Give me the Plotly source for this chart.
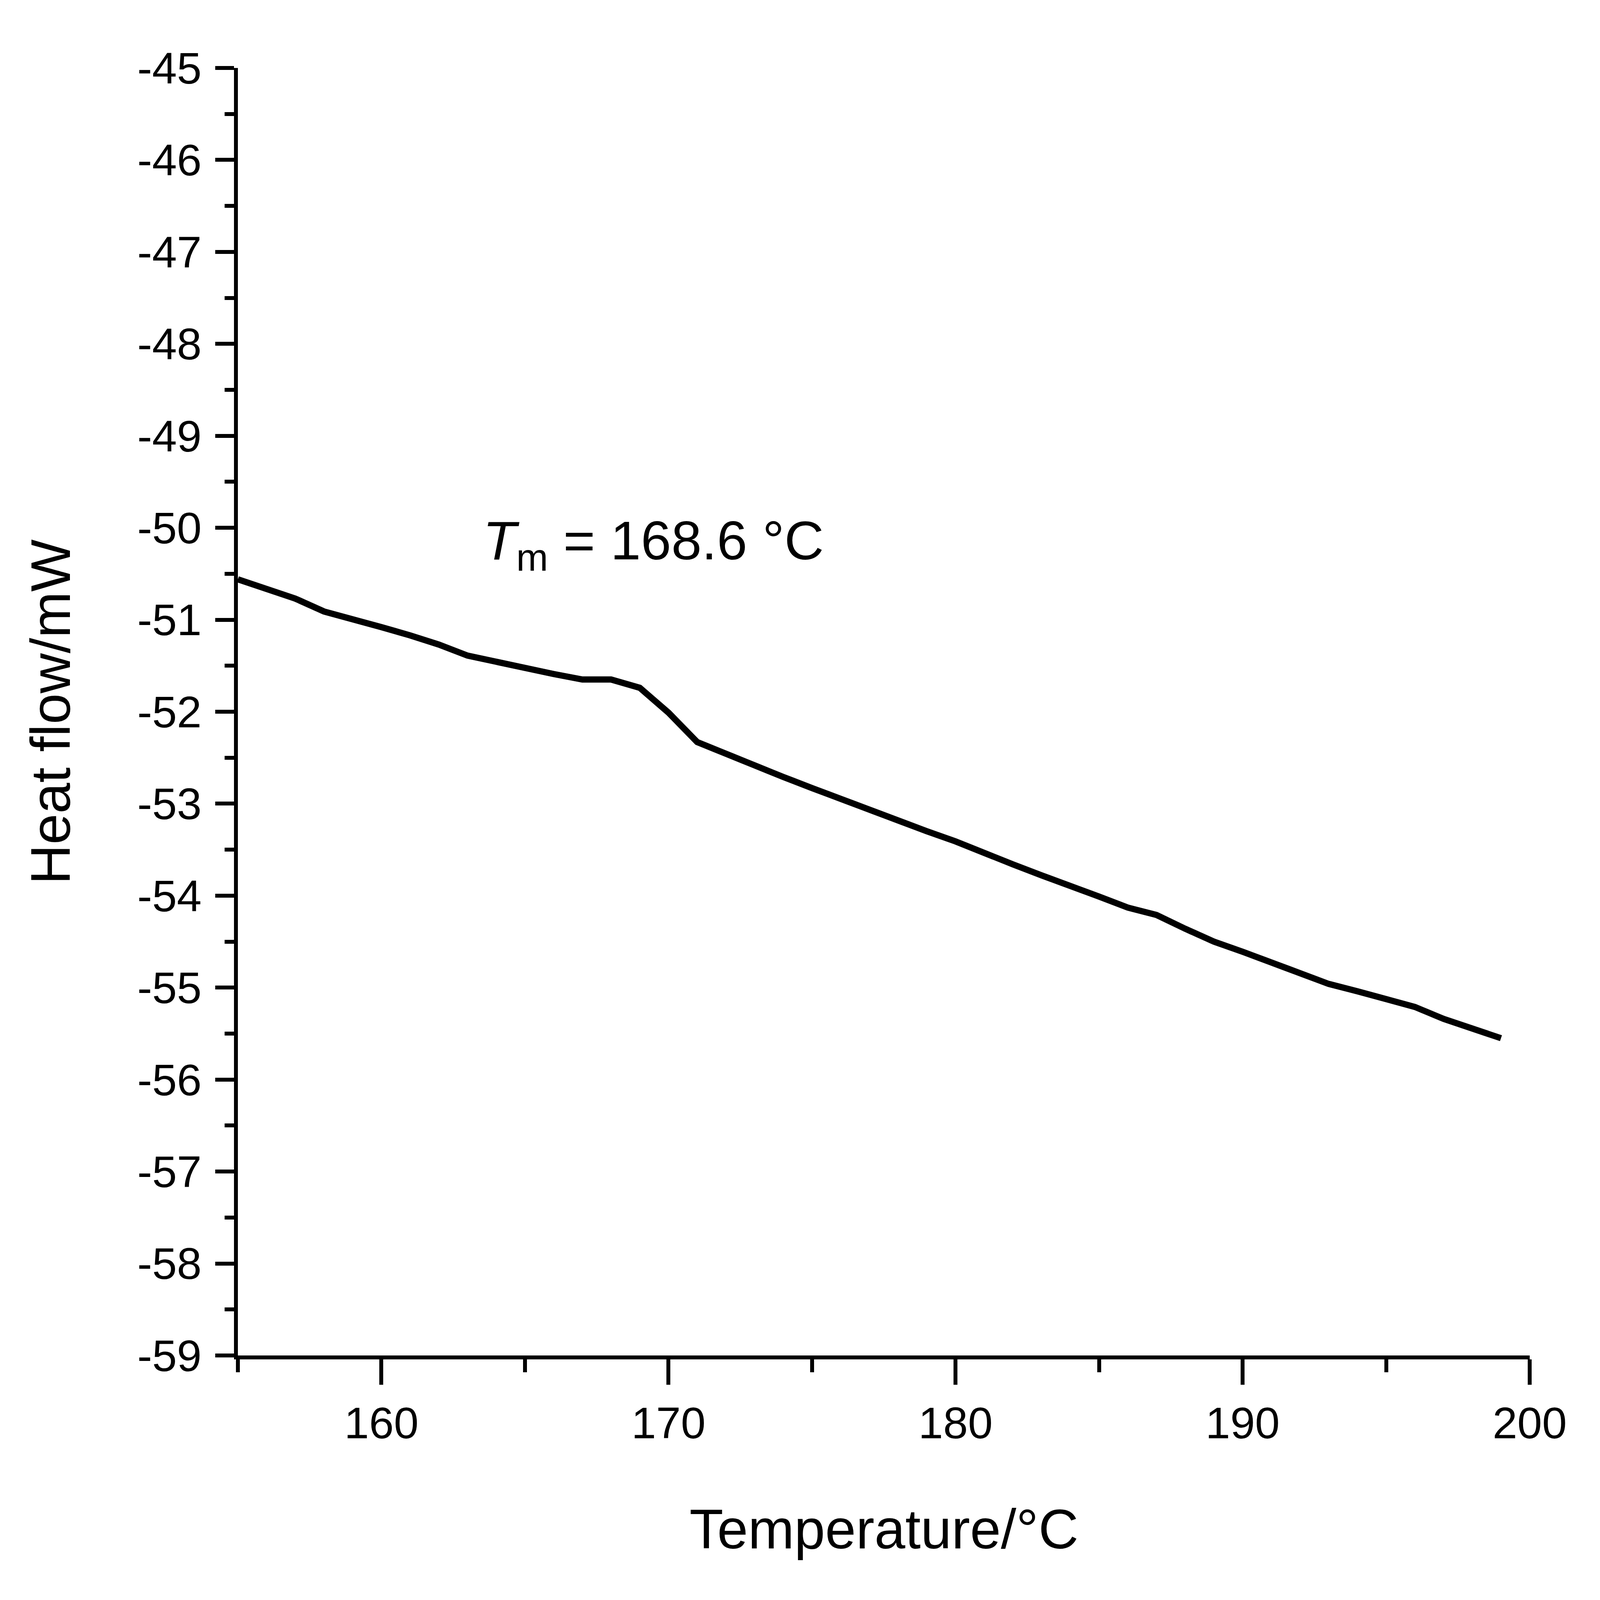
import plotly.graph_objects as go

# DSC curve, heat flow vs temperature
temperature = [155, 156, 157, 158, 159, 160, 161, 162, 163, 164, 165, 166, 167, 168, 169,
               170, 171, 172, 173, 174, 175, 176, 177, 178, 179, 180, 181, 182, 183, 184,
               185, 186, 187, 188, 189, 190, 191, 192, 193, 194, 195, 196, 197, 198, 199]
heat_flow = [-50.56, -50.67, -50.77, -50.91, -50.99, -51.08, -51.17, -51.27, -51.39, -51.46,
             -51.52, -51.59, -51.65, -51.65, -51.74, -52.01, -52.33, -52.46, -52.58, -52.71,
             -52.83, -52.95, -53.07, -53.19, -53.30, -53.41, -53.54, -53.66, -53.78, -53.89,
             -54.01, -54.13, -54.21, -54.36, -54.50, -54.61, -54.73, -54.85, -54.96, -55.04,
             -55.13, -55.21, -55.34, -55.45, -55.55]

x_ticks = [160, 170, 180, 190, 200]
y_ticks = [-45, -46, -47, -48, -49, -50, -51, -52, -53, -54, -55, -56, -57, -58, -59]
y_labels = ["-45", "-46", "-47", "-48", "-49", "-50", "-51", "-52", "-53", "-54",
            "-55", "-56", "-57", "-58", "-59"]

tm_x, tm_y = 163.5, -50.18
tm_text = "<i>T</i><sub>m</sub> = 168.6 °C"

FONT = "Liberation Sans, Arial, sans-serif"
TICK_SIZE = 114
TITLE_SIZE = 142

fig = go.Figure()
fig.add_trace(go.Scatter(x=temperature, y=heat_flow, mode="lines",
                         line=dict(color="black", width=16), showlegend=False))

fig.add_annotation(x=tm_x, y=tm_y, text=tm_text, showarrow=False,
                   xanchor="left", yanchor="middle",
                   font=dict(family=FONT, size=140, color="black"))

# axis titles as paper annotations so they can be placed exactly
fig.add_annotation(x=0.5, y=-0.135, xref="paper", yref="paper",
                   text="Temperature/°C", showarrow=False,
                   xanchor="center", yanchor="middle",
                   font=dict(family=FONT, size=TITLE_SIZE, color="black"))
fig.add_annotation(x=-0.145, y=0.5, xref="paper", yref="paper",
                   text="Heat flow/mW", showarrow=False, textangle=-90,
                   xanchor="center", yanchor="middle",
                   font=dict(family=FONT, size=TITLE_SIZE, color="black"))

axis_common = dict(
    showline=True, linecolor="black", linewidth=10,
    ticks="outside", tickwidth=10, tickcolor="black",
    showgrid=False, zeroline=False,
    tickfont=dict(family=FONT, size=TICK_SIZE, color="black"),
)

fig.update_xaxes(
    range=[155, 200], tickmode="array", tickvals=x_ticks, ticklen=65,
    minor=dict(dtick=5, tick0=155, ticklen=33, tickwidth=10, tickcolor="black", ticks="outside"),
    **axis_common,
)
fig.update_yaxes(
    range=[-59, -45], tickmode="array", tickvals=y_ticks, ticktext=y_labels, ticklen=48,
    ticklabelstandoff=12,
    minor=dict(dtick=0.5, tick0=-59, ticklen=24, tickwidth=10, tickcolor="black", ticks="outside"),
    **axis_common,
)

fig.update_layout(
    autosize=True,
    margin=dict(l=601, r=172, t=166, b=618),
    paper_bgcolor="white", plot_bgcolor="white",
)

fig.write_html("out.html")
